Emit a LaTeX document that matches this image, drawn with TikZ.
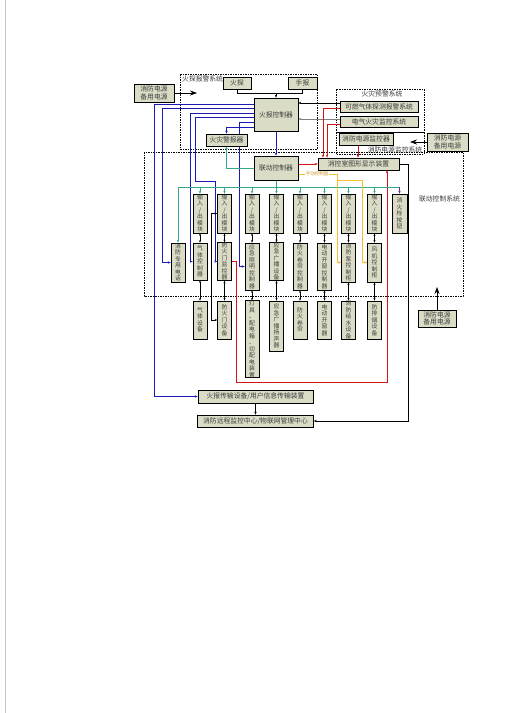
\documentclass[tikz,border=0pt]{standalone}
\usepackage{fontspec}
\newfontfamily\cjk{Noto Sans CJK SC}
\usetikzlibrary{arrows.meta,backgrounds}
\definecolor{boxfill}{HTML}{DADCC6}
\definecolor{boxtext}{HTML}{3C3C3C}
\definecolor{lineblue}{HTML}{1A1AB4}
\definecolor{linered}{HTML}{D41414}
\definecolor{lineteal}{HTML}{33A98A}
\definecolor{lineyellow}{HTML}{F0C030}
\definecolor{linegray}{HTML}{808080}
\definecolor{linepurple}{HTML}{7030A0}
\definecolor{manualtext}{HTML}{C8961E}
\definecolor{pageedge}{HTML}{C8C8C8}

\begin{document}
\begin{tikzpicture}[
  x=1pt, y=-1pt,
  every node/.style={font=\cjk\fontsize{6.8}{7.8}\selectfont, text=boxtext},
  box/.style={draw=black, line width=0.6pt, fill=boxfill, inner sep=0pt, align=center},
  vbox/.style={box, minimum width=14pt, font=\cjk\fontsize{5.8}{6.5}\selectfont},
  region/.style={line width=0.6pt, dash pattern=on 1.5pt off 1pt},
  lnk/.style={line width=0.7pt},
  arr/.style={lnk, -{Stealth[length=3pt,width=2.4pt]}},
  twoway/.style={lnk, {Stealth[length=2.5pt,width=2pt]}-{Stealth[length=2.5pt,width=2pt]}},
  power/.style={line width=0.8pt, -{Stealth[length=7pt,width=5pt]}}
]
  \useasboundingbox (0,0) rectangle (504,713);

  %% ---- 火探报警系统 ------------------------------------------------
  \node[anchor=north west, inner sep=0pt] (lblfire) at (182,76) {火探报警系统};
  \node[box, minimum width=28pt, minimum height=12pt] (fp) at (237,83) {火探};
  \node[box, minimum width=29pt, minimum height=12pt] (mb) at (302.5,83) {手报};
  \node[box, minimum width=44pt, minimum height=33pt] (fc) at (276,114.5) {火报控制器};
  \node[box, minimum width=41pt, minimum height=12pt] (alarm) at (226.5,140) {火灾警报器};
  \node[box, minimum width=40pt, minimum height=18pt] (ps1) at (154,93) {消防电源\\备用电源};
  \coordinate (ps1tip) at (197,93);
  \coordinate (jfp) at (276,93);

  %% ---- 火灾预警系统 / 消防电源监控系统 ------------------------------
  \node (lblpre) at (382,94) {火灾预警系统};
  \node[inner sep=0pt] (lblpsm) at (395,149.5) {消防电源监控系统};
  \node[box, minimum width=78pt, minimum height=11pt] (gas) at (379,106.5) {可燃气体探测报警系统};
  \node[box, minimum width=78pt, minimum height=11pt] (elec) at (379,121.5) {电气火灾监控系统};
  \node[box, minimum width=54pt, minimum height=12pt] (pm) at (366,139) {消防电源监控器};
  \node[box, minimum width=41pt, minimum height=18pt] (ps2) at (447.5,142) {消防电源\\备用电源};
  \coordinate (ps2tip) at (410,142);

  %% ---- 联动控制系统 ------------------------------------------------
  \node (lbllink) at (439.5,199) {联动控制系统};
  \node[box, minimum width=44pt, minimum height=24pt] (lc) at (276,168) {联动控制器};
  \node[box, minimum width=81pt, minimum height=12pt] (disp) at (358.5,164) {消控室图形显示装置};
  \node[font=\cjk\fontsize{4.5}{5}\selectfont, text=manualtext, inner sep=1pt] (manual) at (317,174) {手动控制盘};

  % 输入/出模块
  \foreach \i/\xx in {1/200, 2/224.5, 3/252, 4/276.5, 5/300, 6/324.5, 7/348.5, 8/374.5}
    \node[vbox, minimum height=39pt] (m\i) at (\xx,213.5) {输\\入\\/\\出\\模\\块};
  \node[vbox, minimum width=15pt, minimum height=39pt] (hydrant) at (399.5,213.5) {消\\火\\栓\\按\\钮};

  % 控制设备
  \node[vbox, minimum height=39pt] (phone) at (178,262.5) {消\\防\\专\\用\\电\\话};
  \node[vbox, minimum height=37pt] (c1) at (200,261.5) {气\\体\\控\\制\\器};
  \node[vbox, minimum height=37pt] (c2) at (224.5,261.5) {防\\火\\门\\监\\控\\器};
  \node[vbox, minimum height=47pt] (c3) at (252,266.5) {应\\急\\照\\明\\控\\制\\器};
  \node[vbox, minimum height=37pt] (c4) at (276.5,261.5) {应\\急\\广\\播\\设\\备};
  \node[vbox, minimum height=47pt] (c5) at (300,266.5) {防\\火\\卷\\帘\\控\\制\\器};
  \node[vbox, minimum height=47pt] (c6) at (324.5,266.5) {电\\动\\开\\窗\\控\\制\\器};
  \node[vbox, minimum height=39pt] (c7) at (348.5,262.5) {消\\防\\泵\\控\\制\\柜};
  \node[vbox, minimum height=39pt] (c8) at (374.5,262.5) {风\\机\\控\\制\\柜};

  % 现场设备
  \node[vbox, minimum height=38pt] (d1) at (200,320) {气\\体\\设\\备};
  \node[vbox, minimum height=38pt] (d2) at (224.5,320) {防\\火\\门\\设\\备};
  \node[vbox, minimum height=76pt] (d3) at (252,339) {灯\\具\\、\\配\\电\\箱\\、\\切\\配\\电\\装\\置};
  \node[vbox, minimum height=50pt] (d4) at (276.5,326) {应\\急\\广\\播\\扬\\声\\器};
  \node[vbox, minimum height=38pt] (d5) at (300,320) {防\\火\\卷\\帘};
  \node[vbox, minimum height=38pt] (d6) at (324.5,320) {电\\动\\开\\窗\\器};
  \node[vbox, minimum height=38pt] (d7) at (348.5,320) {消\\防\\给\\水\\设\\备};
  \node[vbox, minimum height=38pt] (d8) at (374.5,320) {防\\排\\烟\\设\\备};

  \node[box, minimum width=38pt, minimum height=17pt] (ps3) at (437,318.5) {消防电源\\备用电源};
  \coordinate (ps3tip) at (437,287);
  \coordinate (busL) at (178,187);
  \coordinate (busR) at (399.5,187);

  %% ---- 传输与远程监控 ----------------------------------------------
  \node[box, minimum width=115pt, minimum height=13pt] (trans) at (255.5,396.5) {火报传输设备/用户信息传输装置};
  \node[box, minimum width=116pt, minimum height=12pt] (remote) at (255.5,421) {消防远程监控中心/物联网管理中心};

  \begin{pgfonlayer}{background}
    \fill[white] (0,0) rectangle (504,713);
    \draw[pageedge, line width=0.5pt] (5.5,0) -- (5.5,713);

    %% ---- 虚线框 ----
    \draw[region] (180,74) rectangle (317,149);
    \draw[region] (336,89) rectangle (424,132);
    \draw[region] (336,132) rectangle (424,154);
    \draw[region] (144,152) rectangle (463,296);

    %% ---- 火报控制器连线 ----
    \draw[lnk] (fp.south) |- (jfp);
    \draw[lnk] (mb.south) |- (jfp);
    \draw[arr] (jfp) -- (fc.north);
    \draw[power] (ps1) -- (ps1tip);

    \draw[arr, lineblue] ([yshift=10.5pt]fc.west) -| (154,396.5) -- (trans.west);
    \draw[arr, lineblue] ([yshift=6.5pt]fc.west) -| (162,262.5) -- (phone.west);
    \draw[arr, lineblue] ([yshift=1.5pt]fc.west) -| (190,261.5) -- (c1.west);
    \draw[arr, lineblue] ([yshift=-2.5pt]fc.west) -| (195,181) -| (215,261.5) -- (c2.west);
    \draw[arr, lineblue] ([yshift=-7.5pt]fc.west) -| (239,266.5) -- (c3.west);
    \draw[arr, lineblue] ([yshift=-12.5pt]fc.west) -| (alarm.north);
    \draw[arr, lineblue] (fc.south) -- (lc.north);

    \draw[arr] ([yshift=3.5pt]gas.west) -- ([yshift=11.5pt]fc.east);
    \draw[arr, linegray] ([yshift=2.5pt]elec.west) -- ([yshift=-4.5pt]fc.east);

    %% ---- 消控室图形显示装置 ----
    \draw[arr, linered] ([yshift=-1.5pt]gas.west) -| ([xshift=-35.5pt]disp.north);
    \draw[arr, linered] ([yshift=-2.5pt]elec.west) -| ([xshift=-31.5pt]disp.north);
    \draw[arr, linered] ([xshift=-8pt]pm.south) -- ([xshift=-8pt]pm.south |- disp.north);
    \draw[arr, linered] ([yshift=4pt]lc.east) -- (disp.west);
    \draw[arr, linered] (c2.east) -| (236,382) -| ([xshift=28.5pt]disp.south);
    \draw[arr] (disp.east) -| (408,421) -- (remote.east);
    \draw[power] (ps2) -- (ps2tip);

    %% ---- 联动总线 ----
    \draw[arr, lineteal] (lc.west) -| (alarm.south);
    \draw[lnk, lineteal] (lc.south) -- (lc.south |- busL);
    \draw[lnk, lineteal] (busL) -- (busR);
    \draw[arr, lineteal] (busL) -- (phone.north);
    \foreach \i in {1,...,8}
      \draw[arr, lineteal] (m\i.north |- busL) -- (m\i.north);
    \draw[arr, linepurple] (busR) -- (hydrant.north);

    %% ---- 手动控制盘 ----
    \draw[lnk, lineyellow] ([yshift=-6pt]lc.east) -- (manual.west);
    \draw[arr, lineyellow] (manual.east) -| (337,262.5) -- (c7.west);
    \draw[arr, lineyellow] (337,180) -| (362,262.5) -- (c8.west);

    %% ---- 模块 / 设备 ----
    \foreach \i in {1,...,8} {
      \draw[twoway] (m\i) -- (c\i);
      \draw[twoway] (c\i) -- (d\i);
    }
    \draw[twoway] (m2.west) -- ++(-6,0) |- (d2.west);
    \draw[power] (ps3) -- (ps3tip);
    \draw[arr] (trans.south) -- (trans.south |- remote.north);
  \end{pgfonlayer}

\end{tikzpicture}
\end{document}
